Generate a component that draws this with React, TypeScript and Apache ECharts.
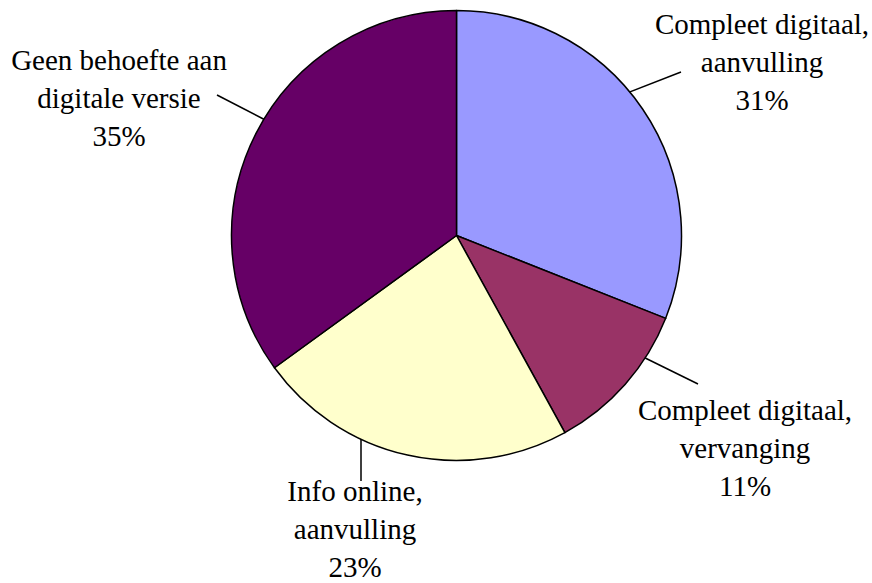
import React, { useEffect, useRef } from "react";
import * as echarts from "echarts";

const categories = [
  "Compleet digitaal,\naanvulling",
  "Compleet digitaal,\nvervanging",
  "Info online,\naanvulling",
  "Geen behoefte aan\ndigitale versie",
];
const values = [31, 11, 23, 35];
const colors = ["#9999FF", "#993366", "#FFFFCC", "#660066"];

const CX = 456.5;
const CY = 235.5;
const R = 225;
const FONT = "Liberation Serif";
// label block centres (pixels)
const labelX = [762, 745, 355, 119];
const labelY = [62, 448, 529, 98];
// leader lines: start on the pie (angle clockwise from top, radius fraction), end offset from label centre
const leaderAngle = [49.2, 123.0, 205.9, 301.1];
const leaderRadius = [0.943, 1.0, 0.972, 1.0];
const leaderEndDX = [-81, -47, 6, 98];
const leaderEndDY = [10, -64, -48, -3];

export default function App() {
  const ref = useRef<HTMLDivElement>(null);
  useEffect(() => {
    if (!ref.current) return;
    const chart = echarts.init(ref.current, undefined, { renderer: "svg" });
    chart.setOption({
      animation: false,
      backgroundColor: "#ffffff",
      textStyle: { fontFamily: FONT },
      series: [
        {
          type: "pie",
          center: [CX, CY],
          radius: R,
          startAngle: 90,
          clockwise: true,
          data: categories.map((name, i) => ({
            name,
            value: values[i],
            itemStyle: { color: colors[i] },
          })),
          itemStyle: { borderColor: "#000000", borderWidth: 1.5 },
          emphasis: { disabled: true },
          label: {
            show: true,
            formatter: (p: any) => `${p.name}\n${p.value}%`,
            fontFamily: FONT,
            fontSize: 29,
            lineHeight: 38,
            color: "#000000",
            align: "center",
            overflow: "none",
          },
          labelLine: {
            show: true,
            showAbove: true,
            length: 20,
            length2: 0,
            lineStyle: { color: "#000000", width: 1.5 },
          },
          labelLayout: (p: any) => {
            const i = p.dataIndex;
            const a = (leaderAngle[i] * Math.PI) / 180;
            const r = R * leaderRadius[i];
            const sx = CX + r * Math.sin(a);
            const sy = CY - r * Math.cos(a);
            return {
              x: labelX[i],
              y: labelY[i],
              align: "center",
              verticalAlign: "middle",
              labelLinePoints: [
                [sx, sy],
                [labelX[i] + leaderEndDX[i], labelY[i] + leaderEndDY[i]],
              ],
            };
          },
        },
      ],
    });
    return () => chart.dispose();
  }, []);
  return (
    <div
      ref={ref}
      style={{ position: "absolute", left: 0, top: 0, width: 872, height: 583 }}
    />
  );
}
